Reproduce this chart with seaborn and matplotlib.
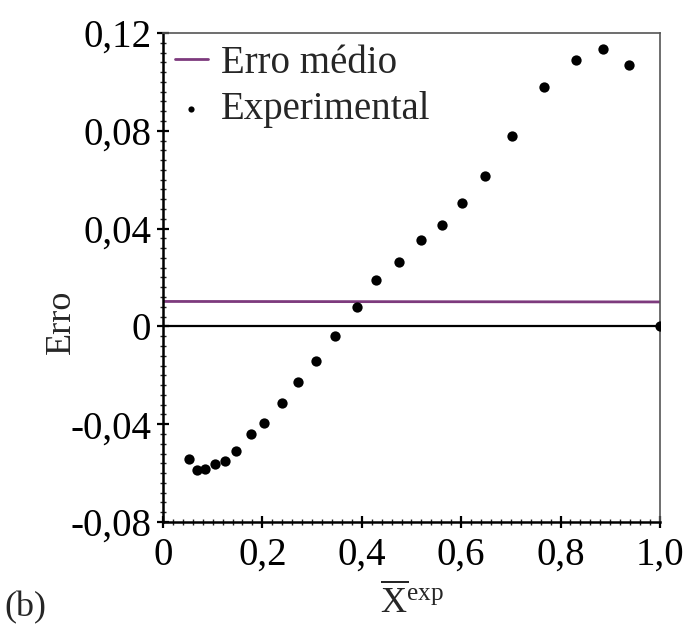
import matplotlib
matplotlib.use("Agg")
import matplotlib.pyplot as plt
import seaborn as sns
import numpy as np
import pandas as pd
from matplotlib.ticker import MultipleLocator, FixedLocator

# ---- data ----
x_exp = [0.052, 0.068, 0.085, 0.105, 0.125, 0.147, 0.177, 0.203, 0.239, 0.272,
         0.308, 0.346, 0.390, 0.429, 0.475, 0.519, 0.561, 0.602, 0.648, 0.702,
         0.767, 0.831, 0.885, 0.938, 1.000]
erro_exp = [-0.0542, -0.0587, -0.0583, -0.0562, -0.0550, -0.0509, -0.0439, -0.0394,
            -0.0312, -0.0226, -0.0140, -0.0041, 0.0078, 0.0189, 0.0263, 0.0353,
            0.0414, 0.0505, 0.0616, 0.0780, 0.0980, 0.1090, 0.1133, 0.1070, 0.0]
mean_x = [0.0, 1.0]
mean_err = [0.0102, 0.0100]
y_ticks = [-0.08, -0.04, 0.0, 0.04, 0.08, 0.12]
y_tick_labels = ["-0,08", "-0,04", "0", "0,04", "0,08", "0,12"]
x_ticks = [0.0, 0.2, 0.4, 0.6, 0.8, 1.0]
x_tick_labels = ["0", "0,2", "0,4", "0,6", "0,8", "1,0"]

df_exp = pd.DataFrame({"x": x_exp, "erro": erro_exp})
df_mean = pd.DataFrame({"x": mean_x, "erro": mean_err})

sns.set_style("white")
plt.rcParams["font.family"] = ["Liberation Serif", "DejaVu Serif"]
plt.rcParams["mathtext.fontset"] = "custom"
plt.rcParams["mathtext.rm"] = "Liberation Serif"
plt.rcParams["mathtext.it"] = "Liberation Serif:italic"

fig = plt.figure(figsize=(6.95, 6.24), dpi=100)
ax = fig.add_axes([0.2345, 0.1635, 0.715, 0.7836])

ax.axhline(0, color="black", lw=1.6, zorder=1)
sns.lineplot(data=df_mean, x="x", y="erro", ax=ax, color="#7d3a7d", lw=2.0,
             label="Erro médio", zorder=2)
sns.scatterplot(data=df_exp, x="x", y="erro", ax=ax, color="black", s=55,
                edgecolor="black", linewidth=0, label="Experimental", zorder=3)

ax.set_xlim(0, 1.0)
ax.set_ylim(-0.08, 0.12)
ax.yaxis.set_major_locator(FixedLocator(y_ticks))
ax.set_yticklabels(y_tick_labels)
ax.xaxis.set_major_locator(FixedLocator(x_ticks))
ax.set_xticklabels(x_tick_labels)
ax.yaxis.set_minor_locator(MultipleLocator(0.004))
ax.xaxis.set_minor_locator(MultipleLocator(0.02))
ax.tick_params(axis="both", which="major", direction="inout", length=9, width=1.6,
               labelsize=28, colors="black", left=True, bottom=True)
ax.tick_params(axis="both", which="minor", direction="inout", length=5, width=1.0,
               left=True, bottom=True)
ax.tick_params(axis="y", pad=4)
ax.tick_params(axis="x", pad=6)

for s in ["left", "bottom"]:
    ax.spines[s].set_color("black")
    ax.spines[s].set_linewidth(1.8)
for s in ["top", "right"]:
    ax.spines[s].set_color("#555555")
    ax.spines[s].set_linewidth(1.2)

ax.set_ylabel("Erro", fontsize=26)
ax.yaxis.set_label_coords(-0.172, 0.41)
ax.set_xlabel(r"$\overline{\mathrm{X}}^{\mathrm{exp}}$", fontsize=26, labelpad=7)

leg = ax.legend(loc="upper left", frameon=False, fontsize=28, handlelength=0.85,
                handletextpad=0.35, borderaxespad=0.0, borderpad=0.3,
                labelspacing=0.25, markerscale=0.6)

fig.text(0.006, 0.0, "(b)", fontsize=26, ha="left", va="bottom")

fig.savefig("out.png", dpi=100)
